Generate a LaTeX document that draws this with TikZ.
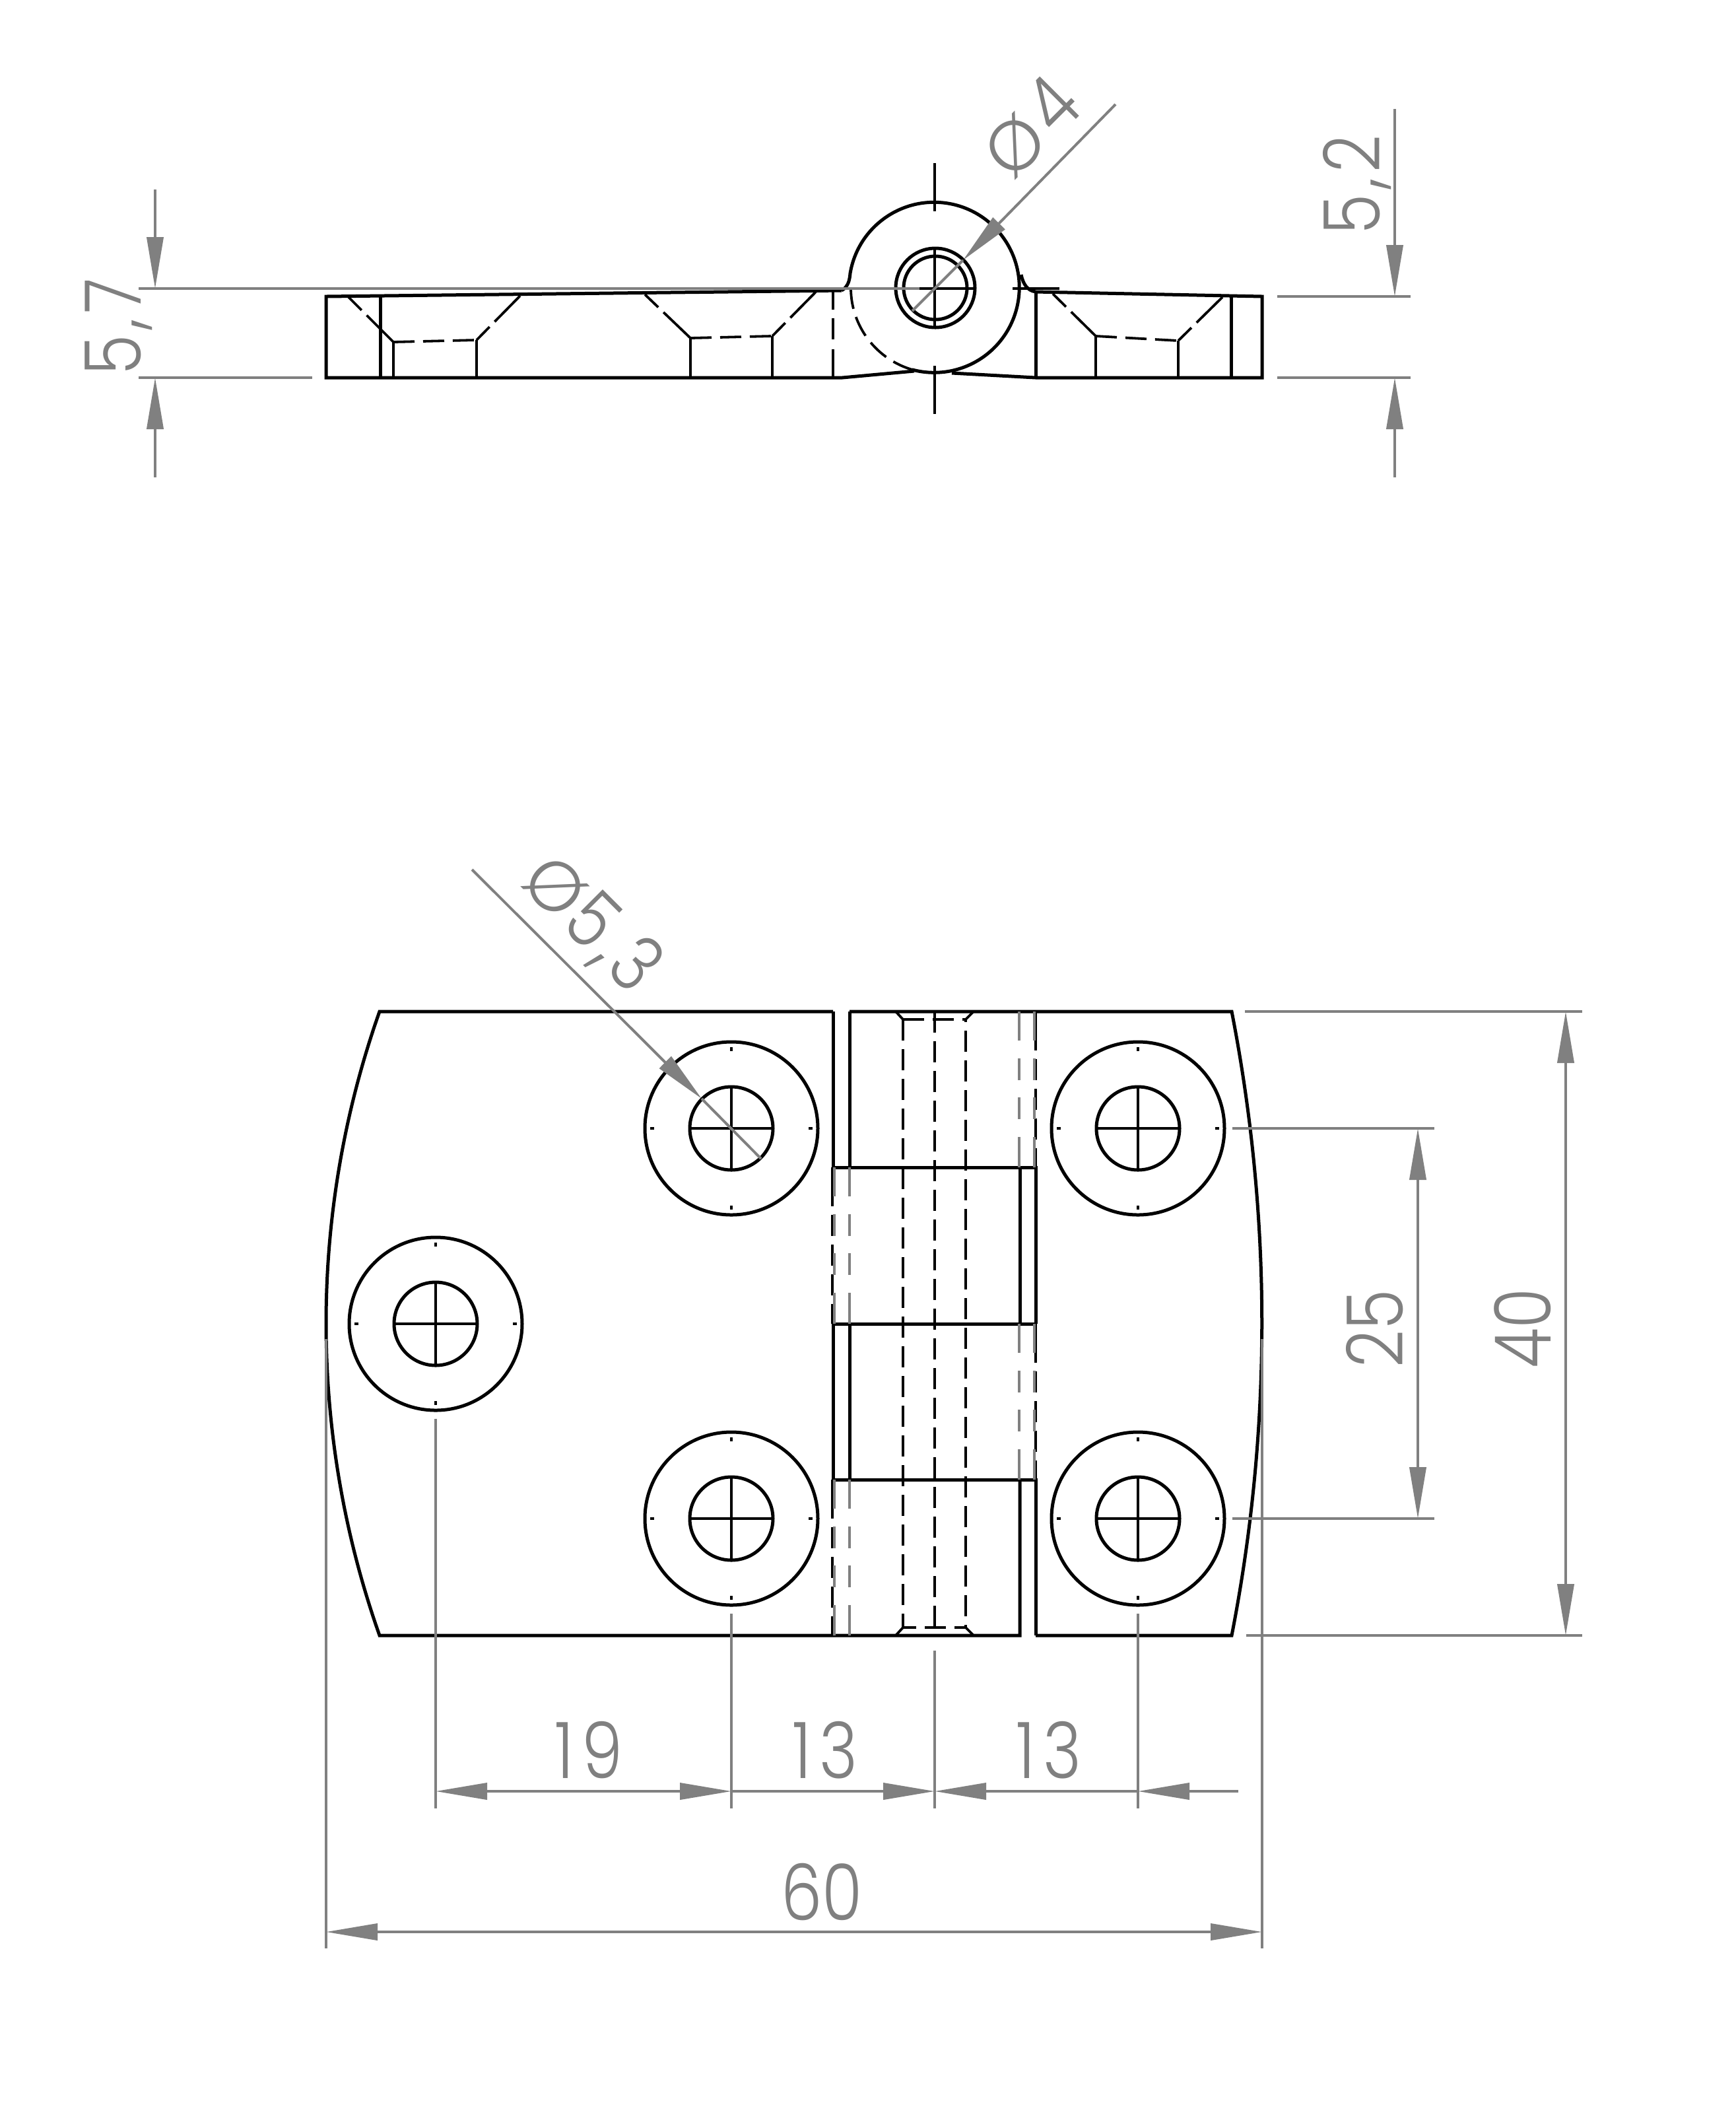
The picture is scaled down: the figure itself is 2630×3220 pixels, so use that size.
\documentclass[tikz,border=0pt]{standalone}
\usepackage{fontspec}
\setmainfont{Poppins}[UprightFont=* Light,FakeStretch=0.84]
\newfontfamily\diafont{Poppins}[UprightFont=* Light,Scale=0.9]
\usetikzlibrary{arrows.meta}
\definecolor{dimgray}{HTML}{808080}
\newcommand{\dcomma}{\kern.07em,\kern.07em}

\begin{document}
\begin{tikzpicture}[x=0.1mm,y=-0.1mm,
                    >={Triangle[length=7.8mm,width=2.5mm]},
                    outline/.style={black,line width=0.5mm,line join=miter},
                    thinline/.style={black,line width=0.38mm},
                    fine/.style={black,line width=0.32mm},
                    hidden/.style={black,line width=0.38mm,dash pattern=on 3.2mm off 1.3mm},
                    chamfer/.style={black,line width=0.38mm,dash pattern=on 2.8mm off 1.1mm on 8mm off 1mm},
                    hiddenedge/.style={black,line width=0.38mm,dash pattern=on 5.9mm off 1.3mm on 3.2mm off 1.3mm on 3.2mm off 1.3mm on 3.2mm off 1.3mm on 3mm off 1mm},
                    hiddengray/.style={dimgray,line width=0.4mm,dash pattern=on 4.4mm off 2.7mm on 3.3mm off 2.6mm on 3.3mm off 2.7mm on 4.6mm off 0mm},
                    dimline/.style={dimgray,line width=0.4mm},
                    extline/.style={dimgray,line width=0.38mm},
                    dimtext/.style={text=dimgray,inner sep=0pt,font=\fontsize{33.6}{36}\selectfont}]
    \useasboundingbox (0,0) rectangle (2630,3220);

    % side view, left leaf
    \draw[outline] (1275,440) -- (494,449) -- (494,572) -- (1276,572) -- (1385,562);
    \draw[outline] (576,450) -- (576,572);
    \draw[chamfer] (528,450) -- (596,518);
    \draw[hidden] (596,518) -- (722,515);
    \draw[chamfer] (722,515) -- (788,448);
    \draw[thinline] (596,518) -- (596,572);
    \draw[thinline] (722,515) -- (722,572);
    \draw[chamfer] (977,446) -- (1046,512);
    \draw[hidden] (1046,512) -- (1170,509);
    \draw[chamfer] (1170,509) -- (1236,442);
    \draw[thinline] (1046,512) -- (1046,572);
    \draw[thinline] (1170,509) -- (1170,572);
    \draw[thinline,dash pattern=on 2.7mm off 1.3mm on 3.2mm off 1.5mm on 4.3mm off 0mm] (1262,442) -- (1262,572);

    % side view, knuckle
    \draw[outline] (1275,440) .. controls (1285,434) and (1287,425) .. (1288,414)
        arc[start angle=189.5,end angle=465,radius=129];
    \draw[hidden] (1289,436) arc[start angle=180,end angle=105,radius=129];
    \draw[outline] (1547,416) .. controls (1550,430) and (1556,440) .. (1569,442);
    \draw[outline] (1417,436) circle (60);
    \draw[outline] (1417,436) circle (48);
    \draw[fine] (1416,247) -- (1416,320);
    \draw[fine] (1416,378) -- (1416,498);
    \draw[fine] (1416,554) -- (1416,627);
    \draw[fine] (1356,437) -- (1476,437);
    \draw[fine] (1534,437) -- (1605,437);

    % side view, right leaf
    \draw[outline] (1569,442) -- (1912,449) -- (1912,572) -- (1569,572) -- (1442,565);
    \draw[outline] (1569,442) -- (1569,572);
    \draw[outline] (1865,449) -- (1865,572);
    \draw[chamfer] (1595,445) -- (1660,509);
    \draw[hidden] (1660,509) -- (1785,516);
    \draw[chamfer] (1785,516) -- (1852,450);
    \draw[thinline] (1660,509) -- (1660,572);
    \draw[thinline] (1785,516) -- (1785,572);

    % front view, leaves
    \draw[outline] (1262,1532) -- (575,1532) .. controls (467,1837.5) and (467,2171.5) .. (575,2477) -- (1545,2477) -- (1545,2241);
    \draw[outline] (1569,2477) -- (1866,2477) .. controls (1927,2165) and (1927,1844) .. (1866,1532) -- (1287,1532);
    \draw[outline] (1262,1532) -- (1262,1768);
    \draw[outline] (1287,1532) -- (1287,1768);
    \draw[outline] (1262,1768) -- (1569,1768) -- (1569,2005);
    \draw[outline] (1545,1768) -- (1545,2005);
    \draw[outline] (1262,2005) -- (1569,2005);
    \draw[outline] (1262,2005) -- (1262,2241);
    \draw[outline] (1287,2005) -- (1287,2241);
    \draw[outline] (1262,2241) -- (1569,2241) -- (1569,2477);

    % front view, hidden edges of the knuckles
    \draw[hiddenedge] (1569,1532) -- (1569,1768);
    \draw[hiddenedge] (1569,2005) -- (1569,2241);
    \draw[hiddenedge] (1261,1768) -- (1261,2005);
    \draw[hiddenedge] (1261,2241) -- (1261,2477);
    \foreach \xa/\ya/\yb in {1544/1532/1768,1567/1532/1768,1544/2005/2241,1567/2005/2241,
                             1264/1768/2005,1287/1768/2005,1264/2241/2477,1287/2241/2477}
        \draw[hiddengray] (\xa,\ya) -- (\xa,\yb);

    % front view, bore of the pin
    \draw[hidden] (1368,1544) -- (1368,2465);
    \draw[hidden] (1416,1532) -- (1416,2477);
    \draw[hidden,dash phase=2.8mm] (1463,1544) -- (1463,2465);
    \draw[hidden] (1368,1544) -- (1463,1544);
    \draw[hidden,dash phase=1.2mm] (1368,2465) -- (1463,2465);
    \draw[thinline] (1357,1532) -- (1368,1544);
    \draw[thinline] (1475,1532) -- (1463,1544);
    \draw[thinline] (1357,2477) -- (1368,2465);
    \draw[thinline] (1475,2477) -- (1463,2465);

    % screw holes
    \foreach \cx/\cy in {1108/1709,1108/2300,1724/1709,1724/2300,660/2005} {
        \begin{scope}[shift={(\cx,\cy)}]
            \draw[outline] (0,0) circle (131);
            \draw[outline] (0,0) circle (63);
            \draw[fine] (-61,0) -- (61,0);
            \draw[fine] (0,-61) -- (0,61);
            \draw[fine] (-123,0) -- (-117,0);
            \draw[fine] (117,0) -- (123,0);
            \draw[fine] (0,-123) -- (0,-117);
            \draw[fine] (0,117) -- (0,123);
        \end{scope}
    }

    % dimensions of the side view
    \coordinate (sideTop) at (235,437);
    \coordinate (sideBot) at (235,572);
    \draw[extline] (210,437) -- (1393,437);
    \draw[extline] (210,572) -- (473,572);
    \draw[dimline,->] (235,287) -- (sideTop);
    \draw[dimline,->] (235,723) -- (sideBot);
    \node[dimtext,rotate=90] (labelSideLeft) at (180,495) {5\dcomma 7};

    \coordinate (leafTop) at (2113,449);
    \coordinate (leafBot) at (2113,572);
    \draw[extline] (1935,449) -- (2137,449);
    \draw[extline] (1935,572) -- (2137,572);
    \draw[dimline,->] (2113,165) -- (leafTop);
    \draw[dimline,->] (2113,723) -- (leafBot);
    \node[dimtext,rotate=90] (labelSideRight) at (2056,280) {5\dcomma 2};

    \coordinate (pinTip) at (1459,394);
    \draw[dimline,->] (1690,158) -- (pinTip);
    \draw[dimline] (pinTip) -- (1382,471);
    \node[dimtext,rotate=45] (labelPin) at (1560,192) {{\diafont Ø}\kern.1em 4};

    % dimensions of the front view
    \coordinate (holeTip) at (1063,1664);
    \draw[dimline,->] (715,1317) -- (holeTip);
    \draw[dimline] (holeTip) -- (1153,1755);
    \node[dimtext,rotate=-45] (labelHole) at (895,1400) {{\diafont Ø}\kern.04em 5\dcomma 3};

    \coordinate (rowTop) at (2148,1709);
    \coordinate (rowBot) at (2148,2300);
    \draw[extline] (1867,1709) -- (2173,1709);
    \draw[extline] (1867,2300) -- (2173,2300);
    \draw[dimline,<->] (rowTop) -- (rowBot);
    \node[dimtext,rotate=90] (labelRow) at (2083,2012) {25};

    \coordinate (heightTop) at (2372,1532);
    \coordinate (heightBot) at (2372,2477);
    \draw[extline] (1886,1532) -- (2397,1532);
    \draw[extline] (1888,2477) -- (2397,2477);
    \draw[dimline,<->] (heightTop) -- (heightBot);
    \node[dimtext,rotate=90] (labelHeight) at (2307,2012) {40};

    \coordinate (holeLeft) at (660,2713);
    \coordinate (holeMid) at (1108,2713);
    \coordinate (pinMid) at (1416,2713);
    \coordinate (holeRight) at (1724,2713);
    \coordinate (dimEnd) at (1876,2713);
    \draw[extline] (660,2149) -- (660,2739);
    \draw[extline] (1108,2444) -- (1108,2739);
    \draw[extline] (1416,2500) -- (1416,2739);
    \draw[extline] (1724,2444) -- (1724,2739);
    \draw[dimline,<->] (holeLeft) -- (holeMid);
    \draw[dimline,->] (holeMid) -- (pinMid);
    \draw[dimline,<-] (pinMid) -- (holeRight);
    \draw[dimline,<-] (holeRight) -- (dimEnd);
    \node[dimtext] (labelA) at (892,2651) {1\kern.1em 9};
    \node[dimtext] (labelB) at (1250,2651) {1\kern.1em 3};
    \node[dimtext] (labelC) at (1589,2651) {1\kern.1em 3};

    \coordinate (widthLeft) at (494,2926);
    \coordinate (widthRight) at (1912,2926);
    \draw[extline] (494,2028) -- (494,2951);
    \draw[extline] (1912,2028) -- (1912,2951);
    \draw[dimline,<->] (widthLeft) -- (widthRight);
    \node[dimtext] (labelWidth) at (1245,2865) {60};
\end{tikzpicture}
\end{document}
